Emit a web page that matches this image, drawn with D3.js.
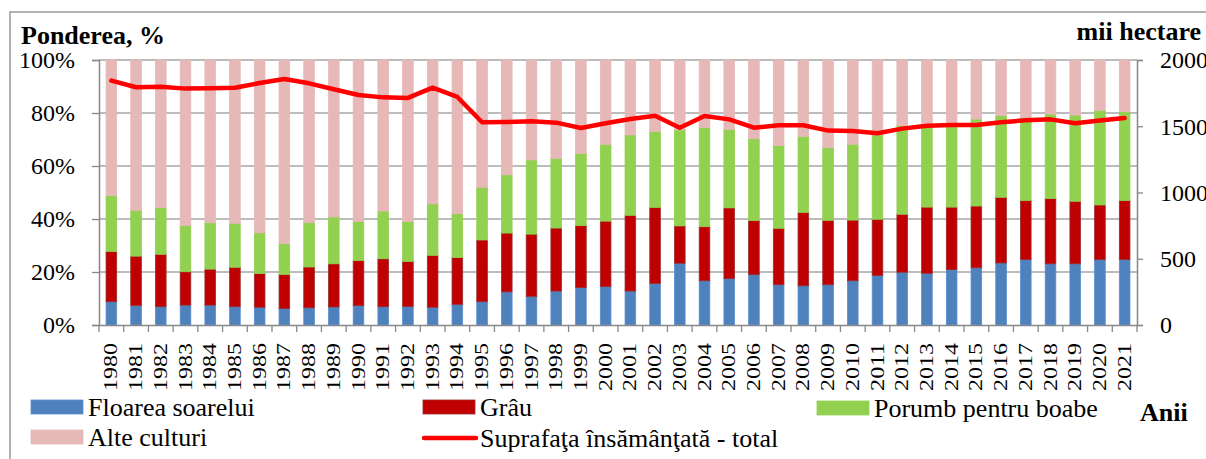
<!DOCTYPE html>
<html>
<head>
<meta charset="utf-8">
<script src="https://cdn.jsdelivr.net/npm/d3@7"></script>
<style>
  body { margin: 0; background: #fff; }
  text { font-family: "Liberation Serif", "Times New Roman", serif; fill: #000; }
</style>
</head>
<body>
<svg id="chart" width="1206" height="459"></svg>
<script>
const years = d3.range(1980, 2022).map(String);

// ponderea, % din suprafata totala
const floarea = [8.8, 7.3, 6.9, 7.5, 7.5, 6.9, 6.7, 6.2, 6.5, 6.8, 7.3, 6.9, 7.0, 6.7, 7.8,
  8.8, 12.5, 10.8, 12.8, 14.1, 14.5, 12.8, 15.7, 23.3, 16.7, 17.5, 19.0, 15.2, 14.8, 15.2,
  16.7, 18.7, 19.9, 19.5, 20.9, 21.6, 23.4, 24.7, 23.1, 23.1, 24.7, 24.7];
const grau = [18.9, 18.7, 19.8, 12.6, 13.6, 14.9, 12.7, 12.9, 15.4, 16.3, 17.0, 18.1, 17.0, 19.6, 17.7,
  23.3, 22.2, 23.5, 23.8, 23.4, 24.7, 28.6, 28.7, 14.1, 20.4, 26.7, 20.4, 21.3, 27.7, 24.3,
  22.9, 21.2, 21.9, 25.0, 23.6, 23.3, 24.8, 22.3, 24.6, 23.6, 20.6, 22.3];
const porumb = [21.1, 17.3, 17.6, 17.4, 17.5, 16.6, 15.4, 11.6, 16.7, 17.7, 14.8, 18.0, 15.1, 19.4, 16.5,
  19.9, 22.0, 28.0, 26.2, 27.2, 29.0, 30.3, 28.6, 36.2, 37.4, 29.6, 30.9, 31.2, 28.6, 27.4,
  28.6, 31.8, 33.5, 30.2, 31.3, 32.8, 30.8, 31.2, 31.9, 32.5, 35.6, 33.5];
const alte = floarea.map((v, i) => +(100 - v - grau[i] - porumb[i]).toFixed(1));

// mii hectare
const suprafata = [1844, 1794, 1799, 1784, 1786, 1791, 1826, 1857, 1824, 1779, 1736, 1718, 1714, 1791, 1721,
  1530, 1532, 1537, 1527, 1487, 1522, 1555, 1580, 1489, 1577, 1552, 1489, 1507, 1507, 1467,
  1464, 1447, 1482, 1504, 1509, 1509, 1530, 1545, 1552, 1522, 1543, 1562];

const leftTicks = [0, 20, 40, 60, 80, 100];
const rightTicks = [0, 500, 1000, 1500, 2000];

const seriesKeys = ['floarea', 'grau', 'porumb', 'alte'];
const seriesNames = {
  floarea: 'Floarea soarelui',
  grau: 'Grâu',
  porumb: 'Porumb pentru boabe',
  alte: 'Alte culturi'
};
const colors = { floarea: '#4F81BD', grau: '#C00000', porumb: '#92D050', alte: '#E6B9B8' };
const strokes = { floarea: '#5A8FD2', grau: '#9B2C2C', porumb: '#92D050', alte: '#E6B9B8' };
const FONT = '"Liberation Serif", "Times New Roman", serif';

const table = years.map((yr, i) => ({
  year: yr, floarea: floarea[i], grau: grau[i], porumb: porumb[i], alte: alte[i]
}));

const svg = d3.select('#chart');
const plotLeft = 99, plotRight = 1137, plotTop = 60, plotBottom = 325;

// rama
svg.append('path')
  .attr('d', 'M10,459 V12 H1206')
  .attr('fill', 'none').attr('stroke', '#9a9a9a').attr('stroke-width', 1.5);

const x = d3.scaleBand().domain(years).range([plotLeft, plotRight]).paddingInner(0.57).paddingOuter(0.285);
const y = d3.scaleLinear().domain([0, 100]).range([plotBottom, plotTop]);
const y2 = d3.scaleLinear().domain([0, 2000]).range([plotBottom, plotTop]);

// grila
svg.append('g').selectAll('line').data(leftTicks.slice(1)).join('line')
  .attr('x1', plotLeft).attr('x2', plotRight)
  .attr('y1', d => y(d)).attr('y2', d => y(d))
  .attr('stroke', '#a6a6a6').attr('stroke-width', 1.3);

// bare
const stack = d3.stack().keys(seriesKeys)(table);
svg.append('g').selectAll('g').data(stack).join('g')
  .attr('fill', d => colors[d.key])
  .attr('stroke', d => strokes[d.key])
  .attr('stroke-width', 0.8)
  .selectAll('rect').data(d => d).join('rect')
  .attr('x', d => x(d.data.year))
  .attr('width', x.bandwidth())
  .attr('y', d => y(d[1]))
  .attr('height', d => y(d[0]) - y(d[1]));

// axe
const axisColor = '#888';
const gl = svg.append('g').attr('transform', `translate(${plotLeft},0)`)
  .call(d3.axisLeft(y).tickValues(leftTicks).tickSize(7).tickFormat(d => d + '%'));
const gr = svg.append('g').attr('transform', `translate(${plotRight},0)`)
  .call(d3.axisRight(y2).tickValues(rightTicks).tickSize(6).tickFormat(d3.format('d')));
const gx = svg.append('g').attr('transform', `translate(0,${plotBottom})`)
  .call(d3.axisBottom(x).tickSize(0).tickFormat(''));

[gl, gr, gx].forEach(g => {
  g.attr('font-family', null);
  g.select('.domain').attr('stroke', axisColor).attr('stroke-width', 1.5);
  g.selectAll('.tick line').attr('stroke', axisColor).attr('stroke-width', 1.3);
});
gl.selectAll('.tick text').attr('x', -24).attr('dy', '0.33em')
  .style('font-family', FONT).style('font-size', '24px').attr('fill', '#000');
gr.selectAll('.tick text').attr('x', 23).attr('dy', '0.33em')
  .style('font-family', FONT).style('font-size', '24px').attr('fill', '#000');

// tick-uri intre categorii
const step = x.step();
svg.append('g').selectAll('line').data(d3.range(years.length + 1)).join('line')
  .attr('x1', i => plotLeft + i * step).attr('x2', i => plotLeft + i * step)
  .attr('y1', plotBottom).attr('y2', plotBottom + 7)
  .attr('stroke', axisColor).attr('stroke-width', 1.3);

// etichete ani
svg.append('g').selectAll('text').data(years).join('text')
  .attr('transform', d => `translate(${x(d) + x.bandwidth() / 2 + 6},343) rotate(-90)`)
  .attr('text-anchor', 'end')
  .attr('textLength', 48).attr('lengthAdjust', 'spacingAndGlyphs')
  .style('font-family', FONT).style('font-size', '19px')
  .text(d => d);

// linia suprafetei totale
const line = d3.line()
  .x((d, i) => x(years[i]) + x.bandwidth() / 2)
  .y(d => y2(d));
svg.append('path').datum(suprafata)
  .attr('d', line)
  .attr('fill', 'none').attr('stroke', '#FF0000').attr('stroke-width', 4.5)
  .attr('stroke-linejoin', 'round').attr('stroke-linecap', 'round');

// titluri axe
svg.append('text').attr('x', 21).attr('y', 44)
  .style('font-family', FONT).style('font-size', '26px').style('font-weight', 'bold').text('Ponderea, %');
svg.append('text').attr('x', 1201).attr('y', 40).attr('text-anchor', 'end')
  .style('font-family', FONT).style('font-size', '26px').style('font-weight', 'bold').text('mii hectare');
svg.append('text').attr('x', 1140).attr('y', 421)
  .style('font-family', FONT).style('font-size', '26px').style('font-weight', 'bold').text('Anii');

// legenda
const legend = [
  { key: 'floarea', x: 31, y: 400, type: 'rect' },
  { key: 'grau', x: 423, y: 400, type: 'rect' },
  { key: 'porumb', x: 817, y: 401, type: 'rect' },
  { key: 'alte', x: 31, y: 430, type: 'rect' },
  { key: 'total', x: 423, y: 431, type: 'line' }
];
const lg = svg.append('g').selectAll('g').data(legend).join('g')
  .attr('transform', d => `translate(${d.x},${d.y})`);
lg.filter(d => d.type === 'rect').append('rect')
  .attr('width', 52).attr('height', 14)
  .attr('fill', d => colors[d.key]).attr('stroke', d => strokes[d.key]).attr('stroke-width', 0.8);
lg.filter(d => d.type === 'line').append('line')
  .attr('x1', 1).attr('x2', 53).attr('y1', 7).attr('y2', 7)
  .attr('stroke', '#FF0000').attr('stroke-width', 4.5).attr('stroke-linecap', 'round');
lg.append('text').attr('x', 57).attr('y', 15.5)
  .style('font-family', FONT).style('font-size', '26px')
  .text(d => d.key === 'total' ? 'Suprafaţa însămânţată - total' : seriesNames[d.key]);
</script>
</body>
</html>
